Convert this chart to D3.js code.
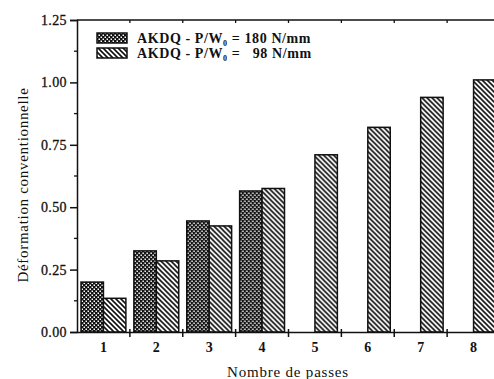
<!DOCTYPE html>
<html>
<head>
<meta charset="utf-8">
<script src="https://cdn.jsdelivr.net/npm/d3@7"></script>
<style>
  body { margin: 0; background: #fff; }
  svg { display: block; }
</style>
</head>
<body>
<div id="chart"></div>
<script>
const passes = ["1", "2", "3", "4", "5", "6", "7", "8"];
const series = ["180", "98"];
const values180 = [0.20, 0.325, 0.445, 0.565, 0, 0, 0, 0];
const values98 = [0.135, 0.285, 0.425, 0.575, 0.71, 0.82, 0.94, 1.01];
const yTicks = [0, 0.25, 0.5, 0.75, 1.0, 1.25];
const yMinor = [0.125, 0.375, 0.625, 0.875, 1.125];
const legendLabels = ["AKDQ - P/W", "AKDQ - P/W"];
const legendTails = ["= 180 N/mm", "=   98 N/mm"];

const W = 494, H = 379;
const plot = { left: 77, right: 500, top: 20, bottom: 332 };
const serif = "'Liberation Serif', 'Times New Roman', 'DejaVu Serif', serif";

const svg = d3.select("#chart").append("svg")
    .attr("width", W).attr("height", H)
    .attr("font-family", serif);

const defs = svg.append("defs");

// dense pattern: black with white dots
const dense = defs.append("pattern")
    .attr("id", "dense").attr("patternUnits", "userSpaceOnUse")
    .attr("width", 4).attr("height", 4);
dense.append("rect").attr("width", 4).attr("height", 4).attr("fill", "#111");
dense.append("rect").attr("x", 0.5).attr("y", 0.5).attr("width", 1.5).attr("height", 1.5).attr("fill", "#fff");
dense.append("rect").attr("x", 2.5).attr("y", 2.5).attr("width", 1.5).attr("height", 1.5).attr("fill", "#fff");

// diagonal hatch "\\\"
const hatch = defs.append("pattern")
    .attr("id", "hatch").attr("patternUnits", "userSpaceOnUse")
    .attr("width", 5).attr("height", 5);
hatch.append("rect").attr("width", 5).attr("height", 5).attr("fill", "#fff");
hatch.append("path")
    .attr("d", "M-1,-1 L6,6 M-1,4 L1,6 M4,-1 L6,1")
    .attr("stroke", "#111").attr("stroke-width", 1.6);

const x = d3.scaleBand().domain(passes).range([plot.left, plot.right]).padding(0);
const xs = d3.scaleBand().domain(series).range([4, x.bandwidth() - 4]).padding(0);
const y = d3.scaleLinear().domain([0, 1.25]).range([plot.bottom, plot.top]);

const fills = { "180": "url(#dense)", "98": "url(#hatch)" };
const rows = passes.map((p, i) => ({ pass: p, vals: [
    { key: "180", v: values180[i] }, { key: "98", v: values98[i] }] }));

// bars
const groups = svg.append("g").selectAll("g")
    .data(rows).enter().append("g")
    .attr("transform", d => `translate(${x(d.pass)},0)`);

groups.selectAll("rect")
    .data(d => d.vals).enter().append("rect")
    .attr("x", d => xs(d.key))
    .attr("y", d => y(d.v))
    .attr("width", xs.bandwidth())
    .attr("height", d => y(0) - y(d.v))
    .attr("fill", d => fills[d.key])
    .attr("stroke", "#111")
    .attr("stroke-width", 1.5);

// y axis
const yAxis = svg.append("g")
    .attr("transform", `translate(${plot.left},0)`)
    .call(d3.axisLeft(y).tickValues(yTicks).tickSize(7).tickPadding(3)
        .tickFormat(d3.format(".2f")));
yAxis.attr("font-family", serif);
yAxis.select(".domain").attr("stroke", "#111").attr("stroke-width", 1.5);
yAxis.selectAll(".tick line").attr("stroke", "#111").attr("stroke-width", 1.5);
yAxis.selectAll("text").attr("font-size", 14).attr("fill", "#111")
    .attr("font-family", serif)
    .attr("letter-spacing", 0.4).attr("stroke", "#111").attr("stroke-width", 0.3);

svg.append("g").selectAll("line")
    .data(yMinor).enter().append("line")
    .attr("x1", plot.left - 3).attr("x2", plot.left)
    .attr("y1", d => y(d)).attr("y2", d => y(d))
    .attr("stroke", "#111").attr("stroke-width", 1.3);

// x axis
const xAxis = svg.append("g")
    .attr("transform", `translate(0,${plot.bottom})`)
    .call(d3.axisBottom(x).tickSize(0).tickPadding(10));
xAxis.attr("font-family", serif);
xAxis.select(".domain").attr("stroke", "#111").attr("stroke-width", 1.5);
xAxis.selectAll("text").attr("font-size", 14).attr("font-weight", "bold").attr("fill", "#111");

svg.append("g").selectAll("line")
    .data(passes.slice(1)).enter().append("line")
    .attr("x1", d => x(d)).attr("x2", d => x(d))
    .attr("y1", plot.bottom - 3).attr("y2", plot.bottom + 5)
    .attr("stroke", "#111").attr("stroke-width", 1.5);

// top frame
svg.append("line")
    .attr("x1", plot.left).attr("x2", plot.right)
    .attr("y1", plot.top).attr("y2", plot.top)
    .attr("stroke", "#111").attr("stroke-width", 1.5);
svg.append("g").selectAll("line")
    .data(passes.slice(1)).enter().append("line")
    .attr("x1", d => x(d)).attr("x2", d => x(d))
    .attr("y1", plot.top).attr("y2", plot.top + 3)
    .attr("stroke", "#111").attr("stroke-width", 1.3);

// axis titles
svg.append("text")
    .attr("x", 288).attr("y", 377)
    .attr("text-anchor", "middle").attr("font-size", 15).attr("fill", "#111")
    .attr("letter-spacing", 0.8)
    .text("Nombre de passes");

svg.append("text")
    .attr("transform", `translate(28,185) rotate(-90)`)
    .attr("text-anchor", "middle").attr("font-size", 15).attr("fill", "#111")
    .attr("letter-spacing", 0.7)
    .text("Déformation conventionnelle");

// legend
const legend = svg.append("g");
series.forEach((s, i) => {
    const ly = 33 + i * 15;
    legend.append("rect")
        .attr("x", 97).attr("y", ly).attr("width", 30).attr("height", 10)
        .attr("fill", fills[s]).attr("stroke", "#111").attr("stroke-width", 1.5);
    const t = legend.append("text")
        .attr("x", 137).attr("y", ly + 10)
        .attr("font-size", 14).attr("font-weight", "bold").attr("fill", "#111")
        .attr("letter-spacing", 0.6)
        .attr("xml:space", "preserve");
    t.append("tspan").text(legendLabels[i]);
    t.append("tspan").attr("dy", 3).attr("font-size", 8).text("0");
    t.append("tspan").attr("dy", -3).text(" " + legendTails[i]);
});
</script>
</body>
</html>
